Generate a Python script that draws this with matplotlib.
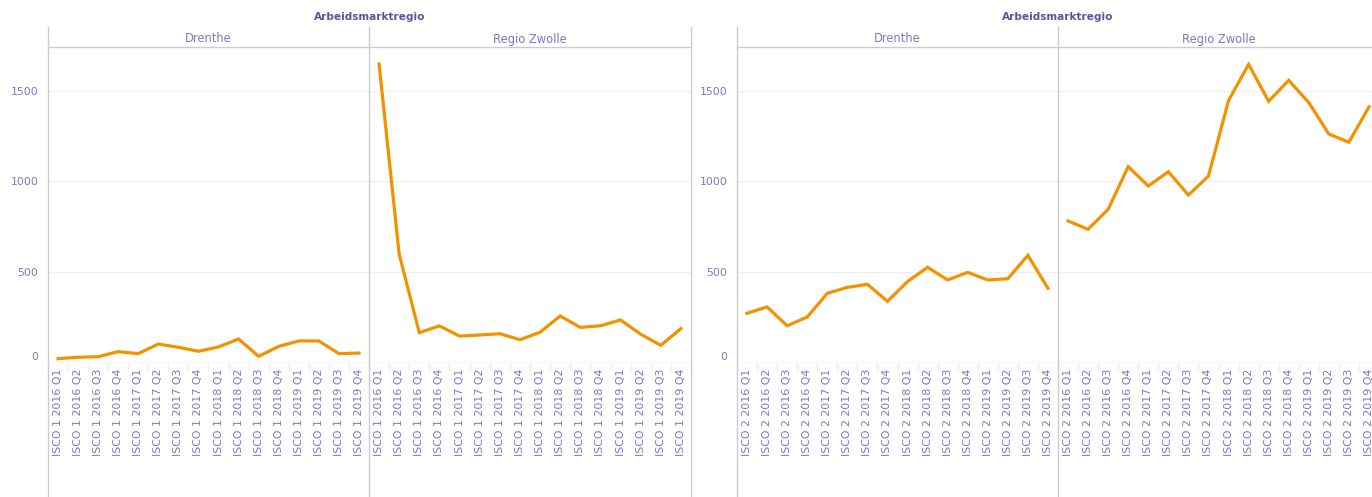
import matplotlib
matplotlib.use("Agg")
import matplotlib.pyplot as plt
from matplotlib.lines import Line2D
import numpy as np

# ---- data ----
years = ["2016", "2017", "2018", "2019"]
quarters = ["Q1", "Q2", "Q3", "Q4"]
regions = ["Drenthe", "Regio Zwolle"]
group_title = "Arbeidsmarktregio"

isco1_drenthe = [21, 29, 32, 60, 49, 102, 84, 62, 86, 130, 34, 89, 119, 119, 49, 52]
isco1_zwolle = [1649, 598, 165, 202, 146, 152, 159, 126, 167, 257, 194, 203, 235, 156, 95, 187]
isco2_drenthe = [272, 307, 203, 251, 382, 415, 432, 338, 447, 526, 456, 498, 456, 463, 592, 410]
isco2_zwolle = [782, 736, 846, 1082, 975, 1054, 925, 1030, 1447, 1647, 1443, 1559, 1436, 1262, 1217, 1412]

y_ticks = [0, 500, 1000, 1500]

# ---- style ----
W, H = 1372, 497
ORANGE = "#f39200"
TXT = "#7f77bf"
TITLE = "#5d529f"
LINE = "#cccccc"
GRID = "#f0f0f0"
FONT = "DejaVu Sans"

fig = plt.figure(figsize=(W / 100, H / 100), dpi=100)


def rect(x0, x1, y0, y1):
    return [x0 / W, 1 - y1 / H, (x1 - x0) / W, (y1 - y0) / H]


def vline(x, y0, y1):
    fig.add_artist(Line2D([x / W, x / W], [1 - y0 / H, 1 - y1 / H],
                          transform=fig.transFigure, color=LINE, lw=1))


def hline(y, x0, x1, color=LINE):
    fig.add_artist(Line2D([x0 / W, x1 / W], [1 - y / H, 1 - y / H],
                          transform=fig.transFigure, color=color, lw=1))


TOP, BOT = 47, 362.5
YMAX = 1743

groups = [
    (48, 369, 691, "ISCO 1", [isco1_drenthe, isco1_zwolle]),
    (737, 1058, 1379, "ISCO 2", [isco2_drenthe, isco2_zwolle]),
]

for gx0, gmid, gx1, isco, series in groups:
    edges = [(gx0, gmid), (gmid, gx1)]
    for k, ((x0, x1), vals, reg) in enumerate(zip(edges, series, regions)):
        ax = fig.add_axes(rect(x0, x1, TOP, BOT))
        labels = [f"{isco} {y} {q}" for y in years for q in quarters]
        xs = list(range(len(vals)))
        ax.plot(xs, vals, color=ORANGE, lw=2.3, solid_joinstyle="miter", clip_on=False, zorder=3)
        ax.set_xlim(-0.5, len(vals) - 0.5)
        ax.set_ylim(0, YMAX)
        for s in ax.spines.values():
            s.set_visible(False)
        ax.set_yticks(y_ticks)
        ax.grid(axis="y", color=GRID, lw=1)
        ax.set_axisbelow(True)
        ax.axhline(0, color="#d9d9d9", lw=1, zorder=1)
        ax.set_xticks(xs)
        ax.set_xticklabels(labels, rotation=90, fontsize=7.9, color=TXT, family=FONT)
        ax.set_xticks(np.arange(-0.5, len(vals), 1), minor=True)
        ax.tick_params(axis="x", which="major", length=0, pad=4.6)
        ax.tick_params(axis="x", which="minor", length=6, width=1, color="#efefef")
        if k == 0:
            ax.set_yticklabels([str(t) for t in y_ticks], fontsize=7.8, color=TXT, family=FONT)
            ax.tick_params(axis="y", length=0, pad=7)
            lab0 = ax.get_yticklabels()[0]
            lab0.set_va("bottom")
        else:
            ax.tick_params(axis="y", length=0, labelleft=False)
        fig.text((x0 + x1) / 2 / W, 1 - 39 / H, reg, ha="center", va="center",
                 fontsize=8.3, color=TXT, family=FONT)
    fig.text((gx0 + gx1) / 2 / W, 1 - 17 / H, group_title, ha="center", va="center",
             fontsize=7.6, color=TITLE, fontweight="bold", family=FONT)
    vline(gx0, 27, H)
    vline(gmid, 27, H)
    vline(gx1, 27, H)
    hline(47, gx0, gx1)

fig.savefig("out.png", dpi=100)
